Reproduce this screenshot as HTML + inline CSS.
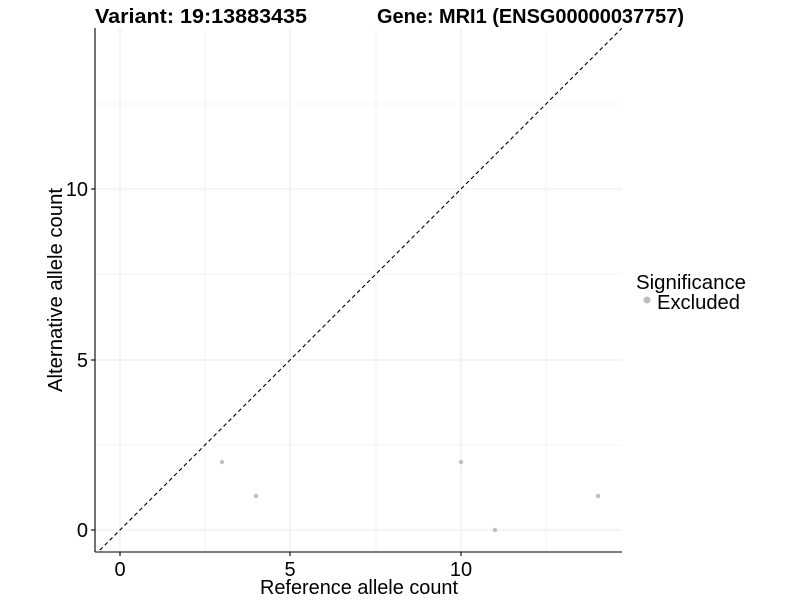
<!DOCTYPE html>
<html><head><meta charset="utf-8"><style>body{margin:0;background:#fff}</style></head><body>
<svg width="800" height="600" xmlns="http://www.w3.org/2000/svg" font-family="Liberation Sans, Arial, sans-serif">
<rect width="800" height="600" fill="#fff"/>
<defs><clipPath id="c"><rect x="95" y="28" width="527" height="524"/></clipPath></defs>
<g stroke="#ebebeb" stroke-width="0.6">
<line x1="205" y1="28" x2="205" y2="552"/><line x1="376" y1="28" x2="376" y2="552"/><line x1="546" y1="28" x2="546" y2="552"/>
<line x1="95" y1="445" x2="622" y2="445"/><line x1="95" y1="274" x2="622" y2="274"/><line x1="95" y1="104" x2="622" y2="104"/>
</g>
<g stroke="#ebebeb" stroke-width="1.1">
<line x1="120" y1="28" x2="120" y2="552"/><line x1="290" y1="28" x2="290" y2="552"/><line x1="461" y1="28" x2="461" y2="552"/>
<line x1="95" y1="530" x2="622" y2="530"/><line x1="95" y1="360" x2="622" y2="360"/><line x1="95" y1="189" x2="622" y2="189"/>
</g>
<g clip-path="url(#c)"><line x1="80" y1="570" x2="640" y2="10" stroke="#000" stroke-width="1.1" stroke-dasharray="4,3"/></g>
<g fill="#bebebe">
<circle cx="222" cy="462" r="2.2"/><circle cx="256" cy="496" r="2.2"/><circle cx="461" cy="462" r="2.2"/><circle cx="495" cy="530" r="2.2"/><circle cx="598" cy="496" r="2.2"/>
</g>
<line x1="95" y1="28" x2="95" y2="552" stroke="#000" stroke-width="1.1"/>
<line x1="95" y1="552" x2="622" y2="552" stroke="#000" stroke-width="1.1"/>
<g stroke="#000" stroke-width="1.1">
<line x1="120" y1="552" x2="120" y2="556"/><line x1="290" y1="552" x2="290" y2="556"/><line x1="461" y1="552" x2="461" y2="556"/>
<line x1="91" y1="530" x2="95" y2="530"/><line x1="91" y1="360" x2="95" y2="360"/><line x1="91" y1="189" x2="95" y2="189"/>
</g>
<g font-size="20" fill="#000">
<text x="120" y="576" text-anchor="middle">0</text><text x="290" y="576" text-anchor="middle">5</text><text x="461" y="576" text-anchor="middle">10</text>
<text x="88" y="537" text-anchor="end">0</text><text x="88" y="367" text-anchor="end">5</text><text x="88" y="196" text-anchor="end">10</text>
<text x="260" y="594" textLength="198" lengthAdjust="spacingAndGlyphs">Reference allele count</text>
<text transform="translate(62,392) rotate(-90)" textLength="204" lengthAdjust="spacingAndGlyphs">Alternative allele count</text>
<text x="636" y="289" textLength="110" lengthAdjust="spacingAndGlyphs">Significance</text>
<text x="657" y="309" textLength="83" lengthAdjust="spacingAndGlyphs">Excluded</text>
</g>
<circle cx="647" cy="300" r="3.5" fill="#bebebe"/>
<g font-size="20" font-weight="bold"><text x="95" y="23" textLength="212" lengthAdjust="spacingAndGlyphs">Variant: 19:13883435</text><text x="377" y="23" textLength="307" lengthAdjust="spacingAndGlyphs">Gene: MRI1 (ENSG00000037757)</text></g>
</svg>
</body></html>
